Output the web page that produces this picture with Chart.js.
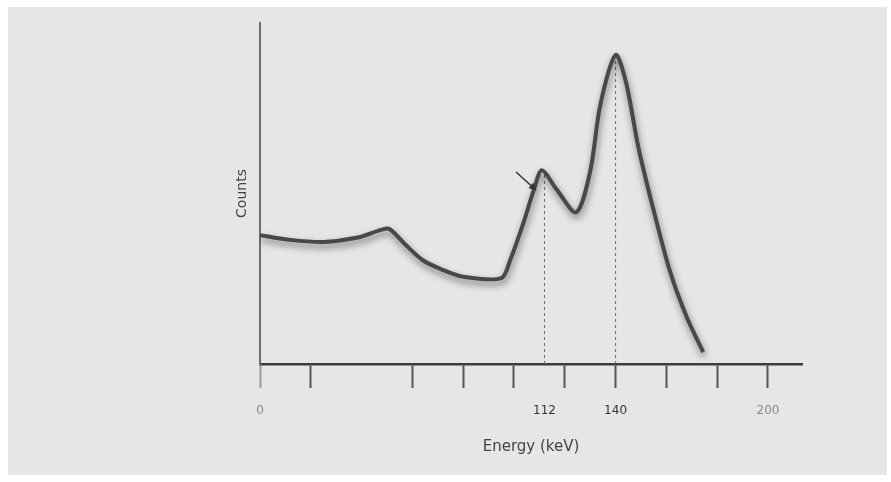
<!DOCTYPE html>
<html>
<head>
<meta charset="utf-8">
<script src="https://cdn.jsdelivr.net/npm/chart.js@4"></script>
<style>
  html, body { margin: 0; padding: 0; background: #fff; }
  #wrap { width: 891px; height: 482px; }
</style>
</head>
<body>
<div id="wrap"><canvas id="spectrum" width="891" height="482"></canvas></div>
<script>
// spectrum (energy in keV, counts in arbitrary units)
const energy = [0, 12, 25, 38, 48, 51, 57, 64, 71, 80, 95, 98.5, 104, 108, 111, 116.5, 124.5, 130, 134, 140, 144, 149, 155, 161.5, 168, 174.5];
const counts = [37.8, 36.4, 35.8, 37.0, 39.4, 39.6, 35.2, 30.5, 27.9, 25.6, 25.2, 30.5, 42.0, 51.5, 56.8, 51.5, 44.5, 56.5, 76.0, 90.6, 83.0, 63.5, 45.0, 27.0, 13.8, 3.5];

const tickValues = [0, 20, 60, 80, 100, 112, 120, 140, 160, 180, 200];
const tickLabels = [0, 112, 140, 200];

// dashed markers under the two peaks
const markerEnergy = [112, 140];
const markerTop = [56.8, 90.6];

// small arrow pointing at the 112 keV peak
const arrowFrom = [100.8, 56.3];
const arrowTo = [108.4, 51.2];

const toXY = (xs, ys) => xs.map((x, i) => ({ x: x, y: ys[i] }));

const markerSets = markerEnergy.map((e, i) => ({
  data: [{ x: e, y: 0 }, { x: e, y: markerTop[i] }],
  borderColor: "#6a6a6a",
  borderWidth: 1,
  borderDash: [3, 3],
  pointRadius: 0,
  fill: false
}));

const backdrop = {
  id: "backdrop",
  beforeDraw(c) {
    const ctx = c.ctx;
    ctx.save();
    ctx.fillStyle = "#ffffff";
    ctx.fillRect(0, 0, c.width, c.height);
    ctx.fillStyle = "#e6e6e6";
    ctx.fillRect(8, 7, 879, 468);
    ctx.restore();
  }
};

const shadow = {
  id: "shadow",
  beforeDatasetDraw(c, args) {
    if (args.index !== 0) return;
    const ctx = c.ctx;
    ctx.save();
    ctx.shadowColor = "rgba(0,0,0,0.5)";
    ctx.shadowBlur = 7;
    ctx.shadowOffsetX = 1;
    ctx.shadowOffsetY = 4;
  },
  afterDatasetDraw(c, args) {
    if (args.index !== 0) return;
    c.ctx.restore();
  }
};

const arrow = {
  id: "arrow",
  afterDatasetsDraw(c) {
    const x = c.scales.x, y = c.scales.y, ctx = c.ctx;
    const x1 = x.getPixelForValue(arrowFrom[0]), y1 = y.getPixelForValue(arrowFrom[1]);
    const x2 = x.getPixelForValue(arrowTo[0]), y2 = y.getPixelForValue(arrowTo[1]);
    const a = Math.atan2(y2 - y1, x2 - x1);
    ctx.save();
    ctx.strokeStyle = "#333";
    ctx.fillStyle = "#333";
    ctx.lineWidth = 1.5;
    ctx.beginPath();
    ctx.moveTo(x1, y1);
    ctx.lineTo(x2 - 4 * Math.cos(a), y2 - 4 * Math.sin(a));
    ctx.stroke();
    ctx.beginPath();
    ctx.moveTo(x2 + 2 * Math.cos(a), y2 + 2 * Math.sin(a));
    ctx.lineTo(x2 - 6 * Math.cos(a) + 3.5 * Math.sin(a), y2 - 6 * Math.sin(a) - 3.5 * Math.cos(a));
    ctx.lineTo(x2 - 6 * Math.cos(a) - 3.5 * Math.sin(a), y2 - 6 * Math.sin(a) + 3.5 * Math.cos(a));
    ctx.closePath();
    ctx.fill();
    ctx.restore();
  }
};

new Chart(document.getElementById("spectrum"), {
  type: "line",
  data: {
    datasets: [{
      data: toXY(energy, counts),
      borderColor: "#484848",
      borderWidth: 4,
      pointRadius: 0,
      tension: 0.3,
      fill: false
    }, ...markerSets]
  },
  options: {
    responsive: false,
    animation: false,
    layout: { padding: { left: 232, top: 23, right: 89, bottom: 22 } },
    plugins: { legend: { display: false }, tooltip: { enabled: false } },
    scales: {
      x: {
        type: "linear",
        min: 0,
        max: 213.4,
        afterBuildTicks: s => { s.ticks = tickValues.map(v => ({ value: v })); },
        afterFit: s => { s.height = 96; },
        border: { color: "#3c3c3c", width: 2.5 },
        grid: {
          drawOnChartArea: false,
          drawTicks: true,
          tickLength: 24,
          tickWidth: 2,
          tickColor: ctx => ctx.tick && ctx.tick.value === 112 ? "rgba(0,0,0,0)" : (ctx.tick && ctx.tick.value === 0 ? "#9a9a9a" : "#555")
        },
        ticks: {
          autoSkip: false,
          maxRotation: 0,
          padding: 16,
          font: { family: "DejaVu Sans", size: 12 },
          color: ctx => (ctx.tick.value === 112 || ctx.tick.value === 140) ? "#333" : "#888",
          callback: v => tickLabels.includes(v) ? String(v) : ""
        },
        title: {
          display: true,
          text: "Energy (keV)",
          color: "#444",
          font: { family: "DejaVu Sans", size: 15 },
          padding: { top: 4, bottom: 4 }
        }
      },
      y: {
        min: 0,
        max: 100,
        afterFit: s => { s.width = 28; },
        border: { color: "#6e6e6e", width: 2 },
        grid: { display: false },
        ticks: { display: false },
        title: {
          display: true,
          text: "Counts",
          color: "#444",
          font: { family: "DejaVu Sans", size: 14 },
          padding: { top: 2, bottom: 2 }
        }
      }
    }
  },
  plugins: [backdrop, shadow, arrow]
});
</script>
</body>
</html>
